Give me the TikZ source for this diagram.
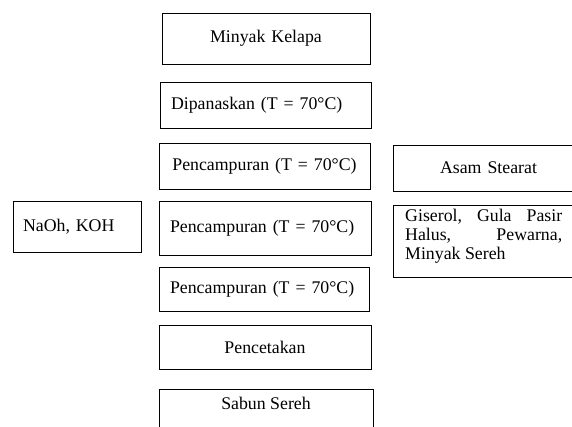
\documentclass[tikz,border=0pt]{standalone}
\usepackage{fontspec}
\setmainfont{Liberation Serif}
\begin{document}
\begin{tikzpicture}[x=1pt,y=-1pt,
  every node/.style={font=\fontsize{17.8}{19}\selectfont},
  box/.style={draw=black, line width=0.9pt, inner ysep=0pt, outer sep=0pt},
  lbox/.style={box, align=left, inner xsep=11pt},
  cbox/.style={box, align=center, inner xsep=0pt}]
\useasboundingbox (0,0) rectangle (572,427);
\node[cbox, minimum width=208, minimum height=51, text width=208] (mk) at (266,38.5) {Minyak Kelapa};
\node[lbox, minimum width=211, minimum height=46, text width=189] (dip) at (265.5,105) {Dipanaskan (T = 70°C)};
\node[cbox, minimum width=211, minimum height=46, text width=211] (pc1) at (264.5,166) {Pencampuran (T = 70°C)};
\node[cbox, minimum width=191, minimum height=46, text width=191] (as) at (488.5,168) {Asam Stearat};
\node[lbox, inner xsep=10pt, minimum width=128, minimum height=51, text width=108] (naoh) at (77,226.5) {NaOh, KOH};
\node[lbox, minimum width=212, minimum height=54, text width=190] (pc2) at (265,228) {Pencampuran (T = 70°C)};
\node[box, minimum width=191, minimum height=72, anchor=north west] (gis) at (393,205) {};
\node[anchor=north west, inner sep=0pt, align=left] (gistext) at (405,209) {\hbox to 157pt{Giserol,\hfill Gula\hfill Pasir}\\\hbox to 157pt{Halus,\hfill Pewarna,}\\Minyak Sereh};
\node[lbox, minimum width=210, minimum height=44, text width=188] (pc3) at (264,289) {Pencampuran (T = 70°C)};
\node[cbox, minimum width=212, minimum height=44, text width=212] (pcet) at (265,347) {Pencetakan};
\node[box, minimum width=214, minimum height=60, anchor=north] (ss) at (266,389) {};
\node[inner sep=0pt] (sstext) at (266,403) {Sabun Sereh};
\end{tikzpicture}
\end{document}
